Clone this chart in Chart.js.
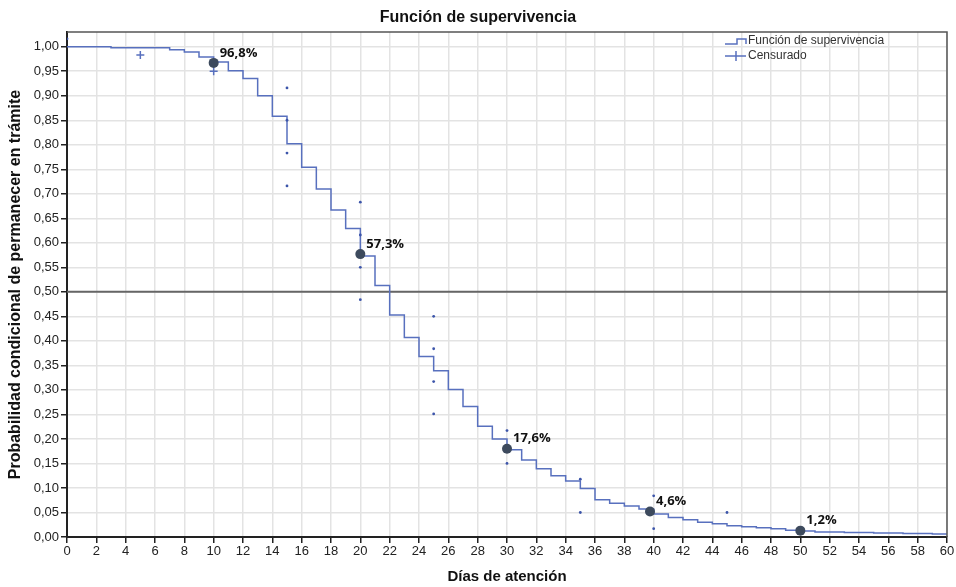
<!DOCTYPE html>
<html>
<head>
<meta charset="utf-8">
<script src="https://cdn.jsdelivr.net/npm/chart.js@4/dist/chart.umd.min.js"></script>
<style>
  html, body { margin: 0; padding: 0; background: #fff; }
  #wrap { width: 956px; height: 587px; }
</style>
</head>
<body>
<div id="wrap"><canvas id="myChart" width="956" height="587"></canvas></div>
<script>
// funcion de supervivencia (dia del escalon, probabilidad despues del escalon)
var survDays = [0, 3, 7, 8, 9, 10, 11, 12, 13, 14, 15, 16, 17, 18, 19, 20, 21, 22, 23, 24, 25, 26, 27, 28, 29, 30,
  31, 32, 33, 34, 35, 36, 37, 38, 39, 40, 41, 42, 43, 44, 45, 46, 47, 48, 49, 50, 51, 53, 55, 57, 59, 60];
var survProb = [1.000, 0.998, 0.994, 0.989, 0.979, 0.969, 0.951, 0.935, 0.900, 0.858, 0.802, 0.754, 0.710, 0.667, 0.629, 0.573,
  0.513, 0.453, 0.407, 0.368, 0.339, 0.301, 0.266, 0.226, 0.200, 0.178, 0.157, 0.139, 0.125, 0.114, 0.099, 0.076, 0.069,
  0.063, 0.057, 0.047, 0.040, 0.035, 0.030, 0.027, 0.023, 0.021, 0.019, 0.017, 0.014, 0.012, 0.010, 0.009, 0.008, 0.007, 0.006, 0.006];

// censurados
var censDays = [0, 5, 10, 15, 15, 15, 15, 20, 20, 20, 20, 25, 25, 25, 25, 30, 30, 35, 35, 40, 40, 45];
var censProb = [1.016, 0.983, 0.950, 0.916, 0.850, 0.783, 0.716, 0.683, 0.616, 0.550, 0.484, 0.450, 0.384, 0.317, 0.251,
  0.217, 0.150, 0.118, 0.050, 0.084, 0.017, 0.050];

// puntos destacados
var markDays = [10, 20, 30, 39.75, 50];
var markProb = [0.967, 0.577, 0.180, 0.052, 0.013];
var markLabels = ["96,8%", "57,3%", "17,6%", "4,6%", "1,2%"];

var xTicks = [];
for (var d = 0; d <= 60; d += 2) xTicks.push(d);
var yTicks = [0, 0.05, 0.10, 0.15, 0.20, 0.25, 0.30, 0.35, 0.40, 0.45, 0.50, 0.55, 0.60, 0.65, 0.70, 0.75, 0.80, 0.85, 0.90, 0.95, 1.00];

const lineColor = "rgb(88, 112, 190)";

const survData = survDays.map((d, i) => ({ x: d, y: survProb[i] }));
const censData = censDays.map((d, i) => ({ x: d, y: censProb[i] }));
const markData = markDays.map((d, i) => ({ x: d, y: markProb[i] }));

// titulo, marco, leyenda y etiquetas
const extras = {
  id: "extras",
  afterDraw(chart) {
    const ctx = chart.ctx;
    const a = chart.chartArea;
    const xs = chart.scales.x, ys = chart.scales.y;
    ctx.save();
    // marco
    ctx.strokeStyle = "#555";
    ctx.lineWidth = 1.5;
    ctx.beginPath();
    ctx.moveTo(a.left, a.top);
    ctx.lineTo(a.right, a.top);
    ctx.lineTo(a.right, a.bottom);
    ctx.stroke();

    // titulo
    ctx.fillStyle = "#111";
    ctx.font = "bold 16px 'Liberation Sans', Arial, sans-serif";
    ctx.textAlign = "center";
    ctx.textBaseline = "middle";
    ctx.fillText("Función de supervivencia", 478, 18);

    // etiquetas de los puntos
    ctx.font = "bold 13px 'Open Sans', sans-serif";
    ctx.textAlign = "left";
    ctx.fillStyle = "#111";
    markData.forEach((p, i) => {
      ctx.fillText(markLabels[i], xs.getPixelForValue(p.x) + 6, ys.getPixelForValue(p.y) - 10);
    });

    // leyenda
    const lx = 725, ly1 = 41, ly2 = 56;
    ctx.strokeStyle = lineColor;
    ctx.lineWidth = 1.5;
    ctx.beginPath();
    ctx.moveTo(lx, ly1 + 3);
    ctx.lineTo(lx + 12, ly1 + 3);
    ctx.lineTo(lx + 12, ly1 - 2);
    ctx.lineTo(lx + 21, ly1 - 2);
    ctx.lineTo(lx + 21, ly1 + 3);
    ctx.moveTo(lx, ly2);
    ctx.lineTo(lx + 21, ly2);
    ctx.moveTo(lx + 11, ly2 - 5);
    ctx.lineTo(lx + 11, ly2 + 5);
    ctx.stroke();
    ctx.fillStyle = "#333";
    ctx.font = "12px 'Liberation Sans', Arial, sans-serif";
    ctx.fillText("Función de supervivencia", lx + 23, ly1);
    ctx.fillText("Censurado", lx + 23, ly2);
    ctx.restore();
  }
};

const tickFont = { family: "'Liberation Sans Narrow', 'Liberation Sans', sans-serif", size: 13 };

const config = {
  type: "scatter",
  data: {
    datasets: [
      {
        label: "Línea 0,5",
        type: "line",
        data: [{ x: 0, y: 0.5 }, { x: 60, y: 0.5 }],
        borderColor: "#666",
        borderWidth: 2,
        pointRadius: 0,
        order: 3
      },
      {
        label: "Función de supervivencia",
        type: "line",
        data: survData,
        stepped: "before",
        borderColor: lineColor,
        borderWidth: 1.5,
        pointRadius: 0,
        fill: false,
        order: 2
      },
      {
        label: "Censurado",
        data: censData,
        pointStyle: (c) => (c.dataIndex === 1 || c.dataIndex === 2) ? "cross" : "circle",
        pointRadius: (c) => (c.dataIndex === 1 || c.dataIndex === 2) ? 4 : 1.4,
        borderColor: lineColor,
        backgroundColor: "rgb(60, 85, 170)",
        borderWidth: (c) => (c.dataIndex === 1 || c.dataIndex === 2) ? 1.5 : 0,
        order: 1
      },
      {
        label: "Destacados",
        data: markData,
        pointRadius: 5,
        backgroundColor: "#3d4a5d",
        borderColor: "#3d4a5d",
        borderWidth: 0,
        order: 0
      }
    ]
  },
  options: {
    responsive: false,
    animation: false,
    layout: { padding: { left: 0, right: 9, top: 32, bottom: 0 } },
    plugins: {
      legend: { display: false },
      title: { display: false },
      tooltip: { enabled: false }
    },
    scales: {
      x: {
        type: "linear",
        min: 0,
        max: 60,
        afterBuildTicks: (s) => { s.ticks = xTicks.map(v => ({ value: v })); },
        afterFit: (s) => { s.height = 50; },
        ticks: { font: tickFont, color: "#222", padding: 1, maxRotation: 0, autoSkip: false },
        grid: { color: "#e3e3e3", lineWidth: 1.5, tickColor: "#222", tickLength: 6 },
        border: { color: "#222", width: 2 },
        title: {
          display: true,
          text: "Días de atención",
          font: { family: "'Liberation Sans', Arial, sans-serif", size: 15, weight: "bold" },
          color: "#111",
          padding: { top: 0, bottom: 1 }
        }
      },
      y: {
        type: "linear",
        min: 0,
        max: 1.03,
        afterBuildTicks: (s) => { s.ticks = yTicks.map(v => ({ value: v })); },
        afterFit: (s) => { s.width = 67; },
        ticks: {
          font: tickFont,
          color: "#222",
          padding: 2,
          autoSkip: false,
          callback: (v) => v.toFixed(2).replace(".", ",")
        },
        grid: { color: "#e3e3e3", lineWidth: 1.5, tickColor: "#222", tickLength: 6 },
        border: { color: "#222", width: 2 },
        title: {
          display: true,
          text: "Probabilidad condicional de permanecer en trámite",
          font: { family: "'Liberation Sans', Arial, sans-serif", size: 16, weight: "bold" },
          color: "#111",
          padding: { top: 6, bottom: 4 }
        }
      }
    }
  },
  plugins: [extras]
};

const myChart = new Chart(document.getElementById("myChart"), config);
</script>
</body>
</html>
